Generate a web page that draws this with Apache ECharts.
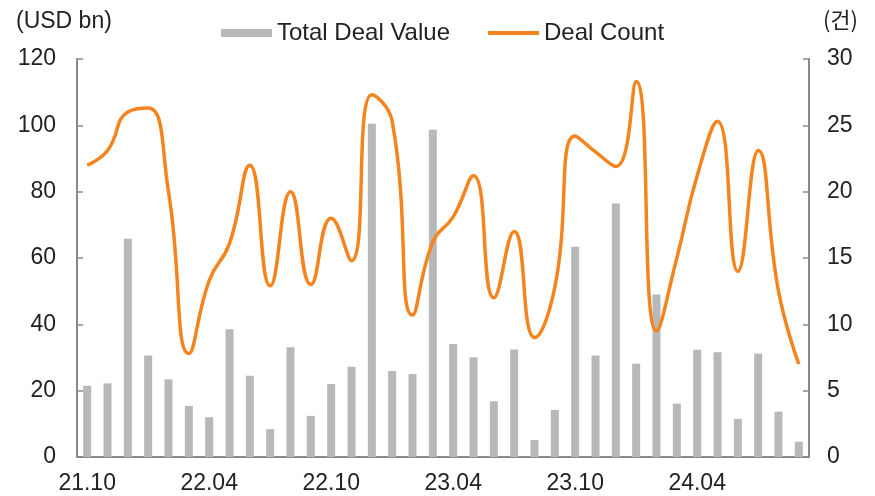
<!DOCTYPE html>
<html>
<head>
<meta charset="utf-8">
<script src="https://cdn.jsdelivr.net/npm/echarts@6/dist/echarts.min.js"></script>
<style>
html,body{margin:0;padding:0;background:#fff;}
#chart{width:875px;height:496px;}
</style>
</head>
<body>
<div id="chart"></div>
<script>
var categories = ['21.10','21.11','21.12','22.01','22.02','22.03','22.04','22.05','22.06','22.07','22.08','22.09',
  '22.10','22.11','22.12','23.01','23.02','23.03','23.04','23.05','23.06','23.07','23.08','23.09',
  '23.10','23.11','23.12','24.01','24.02','24.03','24.04','24.05','24.06','24.07','24.08','24.09'];
var dealValue = [21.5,22.2,65.8,30.6,23.4,15.4,12.0,38.5,24.5,8.4,33.1,12.4,
  22.0,27.2,100.5,25.9,25.0,98.7,34.1,30.1,16.8,32.4,5.1,14.2,
  63.4,30.6,76.4,28.1,49.0,16.1,32.3,31.6,11.5,31.2,13.7,4.6];
var dealCount = [22,23.1,26,26.3,20,7.8,13.3,16.1,22,12.9,20,13,
  18,14.8,27.3,25.3,10.7,16.2,18.1,21.2,12,17,9,12.8,
  24.2,23,21.9,28.3,9.5,15,21.2,25.3,14,23.1,12.5,7];
var leftTicks = [0,120,20];
var rightTicks = [0,30,5];

var FONT = '"Liberation Sans", Arial, sans-serif';
var chart = echarts.init(document.getElementById('chart'), null, {renderer:'canvas'});
var axisColor = '#8a8a8a';
chart.setOption({
  animation:false,
  textStyle:{fontFamily:FONT},
  grid:{left:77,right:66,top:59,bottom:39,containLabel:false},
  legend:{
    top:16,left:216,itemGap:36,itemWidth:51,itemHeight:8,
    textStyle:{fontFamily:FONT,fontSize:24,color:'#222'},
    data:[{name:'Total Deal Value',icon:'rect'},
          {name:'Deal Count',itemStyle:{opacity:0},lineStyle:{width:4,color:'#f5841f'}}]
  },
  graphic:[
    {type:'text',left:16,top:10,style:{text:'(USD bn)',font:'23px '+FONT,fill:'#222'}},
    {type:'text',right:17,top:9,style:{text:'(건)',font:'22px "Noto Sans CJK KR"',fill:'#222'}}
  ],
  xAxis:{
    type:'category',data:categories,boundaryGap:true,
    axisLine:{lineStyle:{color:axisColor,width:2}},
    axisTick:{inside:true,length:5,interval:5,lineStyle:{color:axisColor,width:1.5}},
    axisLabel:{interval:5,fontSize:23,color:'#222',margin:15,fontFamily:FONT}
  },
  yAxis:[
    {type:'value',min:leftTicks[0],max:leftTicks[1],interval:leftTicks[2],
     axisLine:{show:true,lineStyle:{color:axisColor,width:2}},
     axisTick:{show:true,inside:true,length:6,lineStyle:{color:axisColor,width:1.5}},
     splitLine:{show:false},
     axisLabel:{fontSize:23,color:'#222',margin:21,fontFamily:FONT}},
    {type:'value',min:rightTicks[0],max:rightTicks[1],interval:rightTicks[2],position:'right',
     axisLine:{show:true,lineStyle:{color:axisColor,width:2}},
     axisTick:{show:true,inside:true,length:6,lineStyle:{color:axisColor,width:1.5}},
     splitLine:{show:false},
     axisLabel:{fontSize:23,color:'#222',margin:18,fontFamily:FONT}}
  ],
  series:[
    {name:'Total Deal Value',type:'bar',data:dealValue,barWidth:8,yAxisIndex:0,
     itemStyle:{color:'#b7b8ba'}},
    {name:'Deal Count',type:'line',data:dealCount,yAxisIndex:1,smooth:0.5,
     symbol:'none',lineStyle:{color:'#f5841f',width:3.5},itemStyle:{color:'#f5841f'}}
  ]
});
</script>
</body>
</html>
